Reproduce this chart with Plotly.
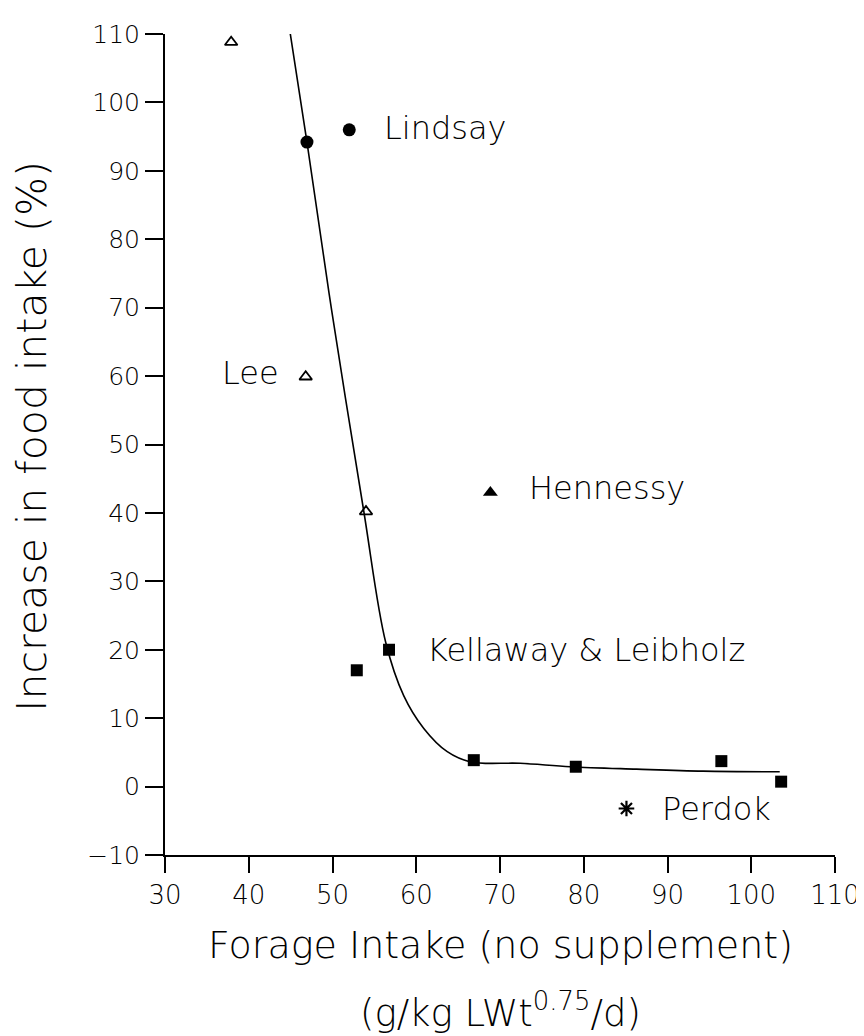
import plotly.graph_objects as go

# Data
lee_x = [37.9, 46.8, 54.0]
lee_y = [108.8, 59.9, 40.2]
lindsay_x = [46.95, 52.0]
lindsay_y = [94.2, 96.0]
hennessy_x = [68.85]
hennessy_y = [43.0]
kell_x = [52.9, 56.75, 66.87, 79.05, 96.43, 103.57]
kell_y = [17.0, 20.0, 3.86, 2.9, 3.72, 0.72]
perdok_x = [85.1]
perdok_y = [-3.2]

curve_x = [44.9, 46.95, 49.9, 53.7, 56.35, 58.5, 60.9, 63.7,
           66.5, 72.4, 78.4, 86.3, 94.25, 103.4]
curve_y = [110.5, 94.2, 69.6, 40.5, 21.1, 13.3, 8.5, 5.1,
           3.6, 3.4, 2.9, 2.55, 2.26, 2.17]

x_ticks = [30, 40, 50, 60, 70, 80, 90, 100, 110]
y_ticks = [-10, 0, 10, 20, 30, 40, 50, 60, 70, 80, 90, 100, 110]

labels = [
    ("Lindsay", 55.95, 96.3, "left"),
    ("Lee", 43.8, 60.4, "right"),
    ("Hennessy", 73.2, 43.6, "left"),
    ("Kellaway &amp; Leibholz", 61.07, 20.0, "left"),
    ("Perdok", 89.05, -3.3, "left"),
]

FONT = "DejaVu Sans"
W = 300
fig = go.Figure()

fig.add_trace(go.Scatter(x=curve_x, y=curve_y, mode="lines", cliponaxis=False,
                         line=dict(color="black", width=1.6, shape="spline", smoothing=1.0),
                         showlegend=False, hoverinfo="skip"))
fig.add_trace(go.Scatter(x=lee_x, y=lee_y, mode="markers",
                         marker=dict(symbol="triangle-up-open", size=11, color="black",
                                     line=dict(width=1.8, color="black")),
                         showlegend=False))
fig.add_trace(go.Scatter(x=lindsay_x, y=lindsay_y, mode="markers",
                         marker=dict(symbol="circle", size=13, color="black"),
                         showlegend=False))
fig.add_trace(go.Scatter(x=hennessy_x, y=hennessy_y, mode="markers",
                         marker=dict(symbol="triangle-up", size=13, color="black"),
                         showlegend=False))
fig.add_trace(go.Scatter(x=kell_x, y=kell_y, mode="markers",
                         marker=dict(symbol="square", size=12, color="black"),
                         showlegend=False))
fig.add_trace(go.Scatter(x=perdok_x, y=perdok_y, mode="markers",
                         marker=dict(symbol="asterisk-open", size=13, color="black",
                                     line=dict(width=2.2, color="black")),
                         showlegend=False))

for text, x, y, anchor in labels:
    fig.add_annotation(x=x, y=y, text=text, showarrow=False, xanchor=anchor,
                       yanchor="middle", font=dict(family=FONT, size=32, color="black", weight=W))

fig.add_annotation(xref="paper", yref="paper", x=-0.198, y=0.51,
                   text="Increase in food intake (%)", textangle=-90,
                   showarrow=False, xanchor="center", yanchor="middle",
                   font=dict(family=FONT, size=41, color="black", weight=W))
fig.add_annotation(xref="paper", yref="paper", x=0.5, y=-0.1092,
                   text="Forage Intake (no supplement)",
                   showarrow=False, xanchor="center", yanchor="middle",
                   font=dict(family=FONT, size=38, color="black", weight=W))
fig.add_annotation(xref="paper", yref="paper", x=0.5, y=-0.1895,
                   text="(g/kg LWt<sup>0.75</sup>/d)",
                   showarrow=False, xanchor="center", yanchor="middle",
                   font=dict(family=FONT, size=37, color="black", weight=W))

fig.update_layout(
    width=864, height=1036,
    margin=dict(l=157, r=35, t=23, b=189),
    paper_bgcolor="white", plot_bgcolor="white",
    font=dict(family=FONT, color="black", weight=W),
    xaxis=dict(range=[30, 110], tickvals=x_ticks, ticks="outside", ticklen=16, tickwidth=1.5,
               tickcolor="black", showline=True, linecolor="black", linewidth=2,
               showgrid=False, zeroline=False, tickfont=dict(size=26, family=FONT, weight=W)),
    yaxis=dict(range=[-10, 110], tickvals=y_ticks, ticks="outside", ticklen=18, tickwidth=1.5,
               tickcolor="black", showline=True, linecolor="black", linewidth=2,
               showgrid=False, zeroline=False, tickfont=dict(size=25, family=FONT, weight=W)),
)

fig.write_html("out.html")
